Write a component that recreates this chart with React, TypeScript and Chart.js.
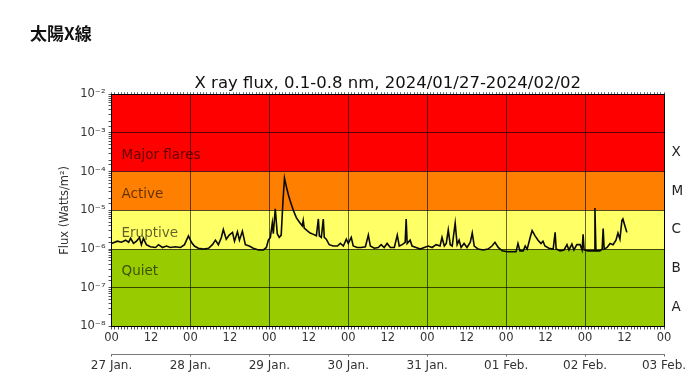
import { useEffect, useRef } from 'react';
import { Chart, registerables } from 'chart.js';

Chart.register(...registerables);

// Hours since 2024/01/27 00:00 UT
const hours = [
  0, 1.8, 3, 4.3, 5.2, 5.8, 6.7, 7.6, 8.5, 9.1, 9.7, 10.6, 11.8, 13.4, 14.3, 15.5, 16.7, 17.9, 19.4, 21,
  22.2, 23.4, 24.3, 25.2, 26.4, 28, 29.5, 30.7, 31.6, 32.5, 33.4, 34, 34.9, 35.8, 36.8, 37.4, 38.3, 38.9, 39.8, 40.7,
  41.9, 43.1, 44.7, 46.2, 47.1, 47.7, 48.3, 48.9, 49.2, 49.8, 50.4, 51, 51.6, 52.1, 52.6, 53.2, 53.8, 54.4, 55.3, 56.2,
  57.1, 58, 58.3, 58.6, 59.5, 60.4, 61.4, 62.3, 62.9, 63.2, 63.8, 64.4, 64.7, 65.3, 66.2, 67.4, 68.7, 69.6, 70.5, 71.4,
  72, 72.9, 73.5, 74.7, 75.9, 77.2, 78.1, 78.7, 79.9, 81.1, 82, 82.9, 83.8, 84.8, 86, 86.9, 87.5, 88.4, 89.3, 89.6,
  89.9, 90.8, 91.4, 92.6, 93.9, 95.1, 96.3, 97.5, 98.7, 99.9, 100.5, 101.2, 101.8, 102.4, 103, 103.6, 104.5, 105.1, 105.7, 106.3,
  107.2, 108.1, 109.1, 109.7, 110.3, 111.5, 113, 114.5, 115.7, 116.6, 117.6, 118.8, 120.3, 121.8, 123, 123.6, 124.2, 125.2, 125.8, 126.4,
  127.3, 127.9, 128.8, 129.7, 130.6, 131.2, 131.8, 133, 134.3, 134.9, 135.2, 136.4, 137.6, 138.5, 139.1, 140, 140.6, 141.5, 142.5, 143.1,
  143.4, 143.7, 144.9, 146.1, 146.8, 147, 147.3, 148.5, 149.2, 149.5, 149.8, 150.7, 151.6, 152.5, 153.4, 154, 154.6, 155.2, 155.5, 156.1,
  156.7,
];

// X-ray flux (W/m^2)
const flux = [
  1.4e-6, 1.6e-6, 1.5e-6, 1.7e-6, 1.5e-6, 1.9e-6, 1.4e-6, 1.6e-6, 2.0e-6, 1.3e-6, 1.9e-6, 1.3e-6, 1.15e-6, 1.1e-6, 1.3e-6, 1.1e-6, 1.2e-6, 1.1e-6, 1.15e-6, 1.1e-6,
  1.3e-6, 2.2e-6, 1.5e-6, 1.2e-6, 1.05e-6, 1.0e-6, 1.05e-6, 1.3e-6, 1.7e-6, 1.3e-6, 2.0e-6, 3.2e-6, 1.8e-6, 2.3e-6, 2.7e-6, 1.6e-6, 2.8e-6, 1.7e-6, 2.9e-6, 1.3e-6,
  1.2e-6, 1.05e-6, 0.95e-6, 0.95e-6, 1.1e-6, 1.7e-6, 2.0e-6, 4.7e-6, 2.5e-6, 1.1e-5, 2.5e-6, 2.0e-6, 2.3e-6, 1.5e-5, 6.8e-5, 4.0e-5, 2.5e-5, 1.7e-5, 1.0e-5, 6.5e-6,
  5.0e-6, 4.0e-6, 5.5e-6, 3.5e-6, 3.0e-6, 2.6e-6, 2.4e-6, 2.2e-6, 6.0e-6, 2.2e-6, 2.0e-6, 6.0e-6, 2.0e-6, 1.8e-6, 1.3e-6, 1.2e-6, 1.2e-6, 1.4e-6, 1.2e-6, 1.8e-6,
  1.4e-6, 2.0e-6, 1.2e-6, 1.1e-6, 1.1e-6, 1.15e-6, 2.3e-6, 1.2e-6, 1.05e-6, 1.1e-6, 1.3e-6, 1.1e-6, 1.4e-6, 1.1e-6, 1.1e-6, 2.3e-6, 1.2e-6, 1.3e-6, 1.5e-6, 6.0e-6,
  1.4e-6, 1.7e-6, 1.2e-6, 1.1e-6, 1.0e-6, 1.1e-6, 1.2e-6, 1.1e-6, 1.3e-6, 1.2e-6, 2.0e-6, 1.2e-6, 1.4e-6, 3.1e-6, 1.3e-6, 1.2e-6, 4.7e-6, 1.3e-6, 1.7e-6, 1.1e-6,
  1.4e-6, 1.1e-6, 1.5e-6, 2.6e-6, 1.2e-6, 1.0e-6, 0.95e-6, 1.0e-6, 1.2e-6, 1.5e-6, 1.1e-6, 0.9e-6, 0.85e-6, 0.85e-6, 0.85e-6, 1.4e-6, 0.9e-6, 0.9e-6, 1.2e-6, 1.0e-6,
  2.0e-6, 3.0e-6, 2.2e-6, 1.7e-6, 1.4e-6, 1.6e-6, 1.2e-6, 1.05e-6, 1.0e-6, 2.7e-6, 1.0e-6, 0.9e-6, 0.95e-6, 1.3e-6, 0.95e-6, 1.35e-6, 0.95e-6, 1.3e-6, 1.3e-6, 0.95e-6,
  2.4e-6, 0.95e-6, 0.9e-6, 0.9e-6, 0.9e-6, 1.15e-5, 0.9e-6, 0.9e-6, 1.0e-6, 3.4e-6, 1.0e-6, 1.1e-6, 1.4e-6, 1.3e-6, 1.7e-6, 2.6e-6, 1.8e-6, 5.5e-6, 6.0e-6, 4.0e-6,
  2.7e-6,
];

const hourTickLabels = ['00', '12'];
const dateLabels = ['27 Jan.', '28 Jan.', '29 Jan.', '30 Jan.', '31 Jan.', '01 Feb.', '02 Feb.', '03 Feb.'];
const classLetters = ['A', 'B', 'C', 'M', 'X'];
const classExponents = [-7.5, -6.5, -5.5, -4.5, -3.5];
const bandEdges = [1e-8, 1e-6, 1e-5, 1e-4, 1e-2];
const bandColors = ['#99cc00', '#ffff66', '#ff7f00', '#ff0000'];
const bandLabels = ['Quiet', 'Eruptive', 'Active', 'Major flares'];
const bandLabelExponents = [-6.57, -5.59, -4.58, -3.59];
const titleText = 'X ray flux, 0.1-0.8 nm, 2024/01/27-2024/02/02';
const yTitle = 'Flux (Watts/m²)';
const headerText = '太陽X線';

const X_MIN = 0;
const X_MAX = 168;
const Y_MIN = 1e-8;
const Y_MAX = 1e-2;

const FONT = 'DejaVu Sans';
const SUP: Record<string, string> = { '-': '⁻', '0': '⁰', '1': '¹', '2': '²', '3': '³', '4': '⁴', '5': '⁵', '6': '⁶', '7': '⁷', '8': '⁸', '9': '⁹' };
const toSup = (s: string) => s.split('').map((c) => SUP[c] ?? c).join('');
const isDecade = (v: number) => Math.abs(Math.log10(v) - Math.round(Math.log10(v))) < 1e-6;

const bandsPlugin = {
  id: 'bands',
  beforeDraw(chart: any) {
    const { ctx, chartArea } = chart;
    const y = chart.scales.y;
    ctx.save();
    for (let i = 0; i < bandColors.length; i++) {
      const top = y.getPixelForValue(bandEdges[i + 1]);
      const bottom = y.getPixelForValue(bandEdges[i]);
      ctx.fillStyle = bandColors[i];
      ctx.fillRect(chartArea.left, top, chartArea.right - chartArea.left, bottom - top);
    }
    ctx.restore();
  },
  beforeDatasetsDraw(chart: any) {
    const { ctx, chartArea } = chart;
    const y = chart.scales.y;
    ctx.save();
    ctx.font = `13.5px "${FONT}"`;
    ctx.fillStyle = 'rgba(0,0,0,0.62)';
    ctx.textAlign = 'left';
    ctx.textBaseline = 'middle';
    for (let i = 0; i < bandLabels.length; i++) {
      const yy = y.getPixelForValue(Math.pow(10, bandLabelExponents[i]));
      ctx.fillText(bandLabels[i], chartArea.left + 10, yy);
    }
    ctx.restore();
  },
};

export default function App() {
  const canvasRef = useRef<HTMLCanvasElement | null>(null);

  useEffect(() => {
    if (!canvasRef.current) return;
    const points = hours.map((h, i) => ({ x: h, y: flux[i] }));
    const hourly = Array.from({ length: X_MAX - X_MIN + 1 }, (_, i) => ({ value: X_MIN + i }));
    const daily = dateLabels.map((_, i) => ({ value: i * 24 }));

    const chart = new Chart(canvasRef.current, {
      type: 'line',
      data: {
        datasets: [
          {
            data: points,
            borderColor: '#0a0a0a',
            borderWidth: 1.6,
            pointRadius: 0,
            tension: 0,
            xAxisID: 'x',
            yAxisID: 'y',
          },
        ],
      },
      plugins: [bandsPlugin],
      options: {
        animation: false,
        responsive: false,
        devicePixelRatio: 1,
        events: [],
        layout: { padding: { left: 54, right: 0, top: 0, bottom: 13.5 } },
        plugins: {
          legend: { display: false },
          tooltip: { enabled: false },
          title: {
            display: true,
            text: titleText,
            fullSize: false,
            color: '#111',
            font: { family: FONT, size: 16.5, weight: 'normal', lineHeight: 1 },
            padding: { top: 75.75, bottom: 0 },
          },
        },
        scales: {
          x: {
            type: 'linear',
            position: 'bottom',
            min: X_MIN,
            max: X_MAX,
            afterBuildTicks: (s: any) => { s.ticks = hourly.map((t) => ({ ...t })); },
            afterFit: (s: any) => { s.height = 28; },
            ticks: {
              autoSkip: false,
              maxRotation: 0,
              minRotation: 0,
              padding: 2,
              color: '#333',
              font: { family: FONT, size: 11.5 },
              callback: (v: any) => (v % 12 === 0 ? hourTickLabels[(v / 12) % 2] : ''),
            },
            grid: {
              drawOnChartArea: true,
              color: (c: any) => (c.tick && c.tick.value % 24 === 0 ? 'rgba(0,0,0,0.6)' : 'rgba(0,0,0,0)'),
              tickColor: '#555',
              tickLength: 3,
              lineWidth: 1,
            },
            border: { display: true, color: '#000', width: 1 },
          },
          x2: {
            type: 'linear',
            position: 'bottom',
            min: X_MIN,
            max: X_MAX,
            afterBuildTicks: (s: any) => { s.ticks = daily.map((t) => ({ ...t })); },
            afterFit: (s: any) => { s.height = 20; },
            ticks: {
              autoSkip: false,
              maxRotation: 0,
              minRotation: 0,
              padding: 2,
              color: '#333',
              font: { family: FONT, size: 12 },
              callback: (v: any) => dateLabels[Math.round(v / 24)] ?? '',
            },
            grid: { drawOnChartArea: false, tickColor: '#666', tickLength: 2 },
            border: { display: true, color: '#777', width: 1 },
          },
          xTop: {
            type: 'linear',
            position: 'top',
            min: X_MIN,
            max: X_MAX,
            afterBuildTicks: (s: any) => { s.ticks = hourly.map((t) => ({ ...t })); },
            afterFit: (s: any) => { s.height = 2; },
            ticks: { display: false },
            grid: { drawOnChartArea: false, tickColor: '#666', tickLength: 2 },
            border: { display: true, color: '#000', width: 1 },
          },
          y: {
            type: 'logarithmic',
            position: 'left',
            min: Y_MIN,
            max: Y_MAX,
            afterFit: (s: any) => { s.width = 57.5; },
            title: {
              display: true,
              text: yTitle,
              color: '#333',
              font: { family: FONT, size: 11.5 },
              padding: { top: 4, bottom: 0 },
            },
            ticks: {
              autoSkip: false,
              padding: 3,
              color: '#333',
              font: { family: FONT, size: 11.5 },
              callback: (v: any) => (isDecade(v) ? '10' + toSup(String(Math.round(Math.log10(v)))) : ''),
            },
            grid: {
              color: (c: any) => (c.tick && isDecade(c.tick.value) ? 'rgba(0,0,0,0.65)' : 'rgba(0,0,0,0)'),
              tickColor: '#555',
              tickLength: 3,
            },
            border: { display: true, color: '#000', width: 1 },
          },
          y2: {
            type: 'linear',
            position: 'right',
            min: -8,
            max: -2,
            afterBuildTicks: (s: any) => { s.ticks = classExponents.map((v) => ({ value: v })); },
            afterFit: (s: any) => { s.width = 26; },
            ticks: {
              autoSkip: false,
              padding: 7.5,
              color: '#222',
              font: { family: FONT, size: 13.5 },
              callback: (v: any) => classLetters[classExponents.indexOf(v)] ?? '',
            },
            grid: { drawOnChartArea: false, drawTicks: false },
            border: { display: true, color: '#000', width: 1 },
          },
        },
      } as any,
    });
    return () => chart.destroy();
  }, []);

  return (
    <div style={{ position: 'fixed', left: 0, top: 0, width: 690, height: 388, background: '#fff' }}>
      <canvas ref={canvasRef} width={690} height={388} style={{ position: 'absolute', left: 0, top: 0, width: 690, height: 388 }} />
      <div
        style={{
          position: 'absolute',
          left: 30,
          top: 24,
          fontFamily: '"Noto Sans CJK JP", "Noto Sans", sans-serif',
          fontWeight: 700,
          fontSize: 17,
          lineHeight: 1,
          color: '#111',
          whiteSpace: 'nowrap',
        }}
      >
        {headerText}
      </div>
    </div>
  );
}
